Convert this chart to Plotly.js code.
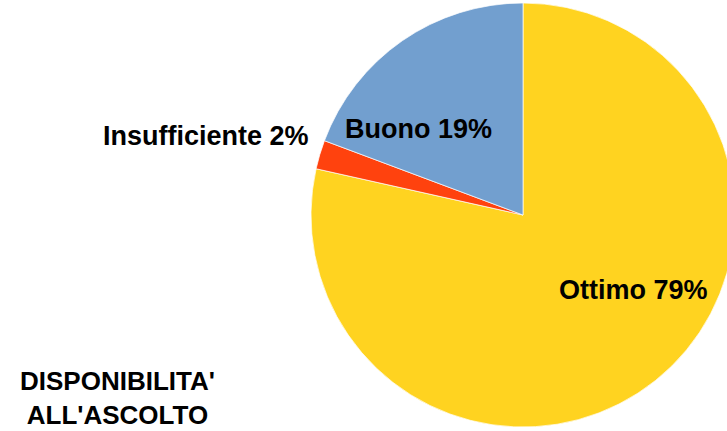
<!DOCTYPE html>
<html>
<head>
<meta charset="utf-8">
<script src="https://cdn.plot.ly/plotly-3.0.1.min.js"></script>
<style>
html,body{margin:0;padding:0;overflow:hidden;background:#fff;width:727px;height:431px;}
#chart{width:745px;height:431px;}
</style>
</head>
<body>
<div id="chart"></div>
<script>
const categories = ["Ottimo", "Insufficiente", "Buono"];
const values = [78.5, 2.2, 19.3];
const percentLabels = ["79%", "2%", "19%"];
const colors = ["#FFD320", "#FF420E", "#729FCF"];
const chartTitle = ["DISPONIBILITA'", "ALL'ASCOLTO"];

const W = 745, H = 431;
const labelText = categories.map((c, i) => c + " " + percentLabels[i]);

// label anchor positions (pixels)
const labelPos = [
  {x: 633, y: 290, xanchor: "center"},
  {x: 311, y: 136, xanchor: "right"},
  {x: 418, y: 129, xanchor: "center"}
];

const font = "Liberation Sans, Arial, sans-serif";
const annotations = labelText.map((t, i) => ({
  text: "<b>" + t + "</b>",
  xref: "paper", yref: "paper",
  x: labelPos[i].x / W, y: (H - labelPos[i].y) / H,
  xanchor: labelPos[i].xanchor, yanchor: "middle",
  showarrow: false,
  font: {family: font, size: 27, color: "#000"}
}));
annotations.push({
  text: "<b>" + chartTitle.join("<br>") + "</b>",
  xref: "paper", yref: "paper",
  x: 117 / W, y: (H - 398) / H,
  xanchor: "center", yanchor: "middle", align: "center",
  showarrow: false,
  font: {family: font, size: 26, color: "#000"}
});

const cx = 523, cy = 215, r = 212;
const trace = {
  type: "pie",
  labels: categories,
  values: values,
  sort: false,
  direction: "clockwise",
  rotation: 0,
  textinfo: "none",
  hoverinfo: "label+percent",
  marker: {colors: colors, line: {color: "#ffffff", width: 0.7}},
  domain: {x: [(cx - r) / W, (cx + r) / W], y: [(H - cy - r) / H, (H - cy + r) / H]},
  showlegend: false
};

Plotly.newPlot("chart", [trace], {
  width: W, height: H,
  margin: {l: 0, r: 0, t: 0, b: 0},
  paper_bgcolor: "#fff",
  showlegend: false,
  annotations: annotations
}, {displayModeBar: false, staticPlot: true});
</script>
</body>
</html>
